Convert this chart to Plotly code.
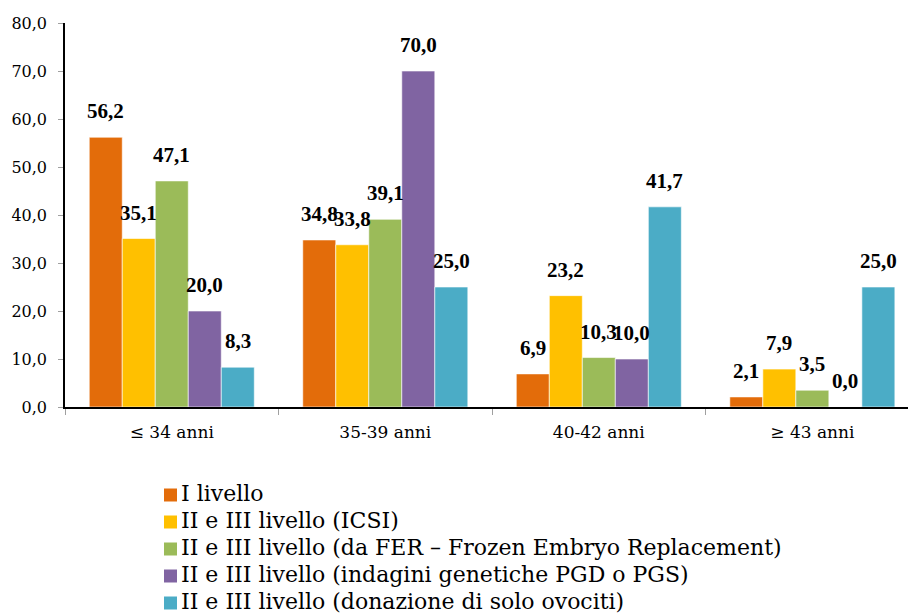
import plotly.graph_objects as go

categories = ["≤ 34 anni", "35-39 anni", "40-42 anni", "≥ 43 anni"]
series_names = [
    "I livello",
    "II e III livello (ICSI)",
    "II e III livello (da FER – Frozen Embryo Replacement)",
    "II e III livello (indagini genetiche PGD o PGS)",
    "II e III livello (donazione di solo ovociti)",
]
i_livello = [56.2, 34.8, 6.9, 2.1]
icsi = [35.1, 33.8, 23.2, 7.9]
fer = [47.1, 39.1, 10.3, 3.5]
pgd_pgs = [20.0, 70.0, 10.0, 0.0]
ovociti = [8.3, 25.0, 41.7, 25.0]
series_values = [i_livello, icsi, fer, pgd_pgs, ovociti]
colors = ["#E36C0A", "#FFC000", "#9BBB59", "#8064A2", "#4BACC6"]
y_ticks = [0, 10, 20, 30, 40, 50, 60, 70, 80]

FONT_B = "Liberation Serif"
FONT = "DejaVu Serif"
W, H = 908, 615
ML, MR, MT, MB = 65, 0, 23, 208
PW, PH = W - ML - MR, H - MT - MB
bargap = 0.227
n = len(series_values)

fig = go.Figure()
for name, vals, col in zip(series_names, series_values, colors):
    fig.add_trace(go.Bar(
        x=categories, y=vals, name=name, showlegend=False,
        marker=dict(color=col, line=dict(width=0.6, color="white")),
    ))

group_w = 1 - bargap
bar_w = group_w / n
annotations = []
shapes = []
for k, vals in enumerate(series_values):
    off = -group_w / 2 + (k + 0.5) * bar_w
    for i, v in enumerate(vals):
        annotations.append(dict(
            x=i + off, y=v, xref="x", yref="y",
            text=f"{v:.1f}".replace(".", ","), showarrow=False,
            yshift=26, font=dict(family=FONT_B, size=21, color="black", weight="bold"),
        ))

# legend (below the plot, one entry per line)
leg_x_px, leg_y0_px, leg_dy_px, sw = 164, 493, 27, 13
for k, (name, col) in enumerate(zip(series_names, colors)):
    yc = leg_y0_px + k * leg_dy_px
    shapes.append(dict(
        type="rect", xref="paper", yref="paper",
        x0=(leg_x_px - ML) / PW, x1=(leg_x_px + sw - ML) / PW,
        y0=(H - MB - (yc + 2 - sw / 2)) / PH, y1=(H - MB - (yc + 2 + sw / 2)) / PH,
        fillcolor=col, line=dict(width=0),
    ))
    annotations.append(dict(
        x=(leg_x_px + sw + 2 - ML) / PW, y=(H - MB - yc) / PH,
        xref="paper", yref="paper", xanchor="left", yanchor="middle",
        text=name, showarrow=False,
        font=dict(family=FONT, size=22, color="black"),
    ))

fig.update_layout(
    width=W, height=H,
    paper_bgcolor="white", plot_bgcolor="white",
    margin=dict(l=ML, r=MR, t=MT, b=MB),
    barmode="group", bargap=bargap, bargroupgap=0,
    separators=",.",
    font=dict(family=FONT, size=18, color="black"),
    annotations=annotations, shapes=shapes,
    showlegend=False,
    xaxis=dict(
        type="category", range=[-0.5, 3.448],
        showline=True, linecolor="black", linewidth=1.5,
        ticks="outside", tickson="boundaries", ticklen=6, tickcolor="#A0A0A0",
        tickfont=dict(family=FONT, size=17, color="black"),
        ticklabelstandoff=9, tickangle=0,
        showgrid=False, zeroline=False,
    ),
    yaxis=dict(
        range=[0, 80], tickvals=y_ticks, tickformat=".1f",
        showline=True, linecolor="black", linewidth=1.5,
        ticks="outside", ticklen=5, tickcolor="#A0A0A0",
        tickfont=dict(family=FONT, size=16, color="black"),
        ticklabelstandoff=8,
        showgrid=False, zeroline=False,
    ),
)

fig.write_html(
    "out.html",
    config={"displayModeBar": False},
    post_script="document.body.style.margin='0';document.body.style.overflow='hidden';",
)
